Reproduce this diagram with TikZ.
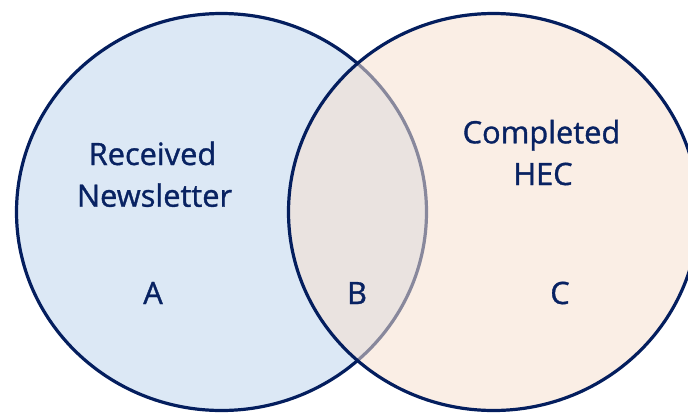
\documentclass[tikz,border=0pt]{standalone}
\usepackage{fontspec}
\setmainfont[FakeBold=1.1]{Open Sans}
\begin{document}
\begin{tikzpicture}[x=1pt,y=-1pt,
  navy/.style={draw=setline,line width=3.2pt},
  lbl/.style={text=settext,font=\fontsize{30.8}{41.7}\selectfont,inner sep=0pt,align=center}]
\definecolor{setline}{RGB}{4,30,94}
\definecolor{settext}{RGB}{8,34,98}
\definecolor{setblue}{RGB}{220,232,245}
\definecolor{setpeach}{RGB}{246,224,208}
\useasboundingbox (0,0) rectangle (688,416);
% left set, opaque with its outline
\path[navy,fill=setblue] (221.5,212) ellipse [x radius=205,y radius=198.5];
% right set, translucent fill laid over the left one
\path[fill=setpeach,fill opacity=0.55] (493.5,212) ellipse [x radius=205,y radius=198.5];
\path[navy] (493.5,212) ellipse [x radius=205,y radius=198.5];
% labels
\node[lbl,anchor=base] (recv) at (152.5,165) {Received};
\node[lbl,anchor=base] (news) at (154.5,206.7) {Newsletter};
\node[lbl,anchor=base] (comp) at (541.5,143.3) {Completed};
\node[lbl,anchor=base] (hec) at (543,185) {HEC};
\node[lbl,anchor=base] (a) at (153,304) {A};
\node[lbl,anchor=base] (b) at (357,304) {B};
\node[lbl,anchor=base] (c) at (560,304) {C};
\end{tikzpicture}
\end{document}
